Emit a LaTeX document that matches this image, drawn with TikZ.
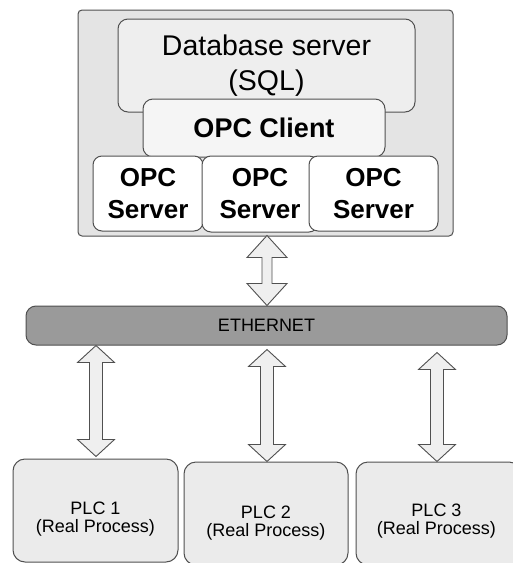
\documentclass[tikz,border=0pt]{standalone}
\usepackage{fontspec}
\setmainfont{Liberation Sans}
\usetikzlibrary{calc}

\definecolor{edge}{HTML}{505050}
\definecolor{hostfill}{HTML}{E4E4E4}
\definecolor{dbfill}{HTML}{EEEEEE}
\definecolor{clientfill}{HTML}{F5F5F5}
\definecolor{netfill}{HTML}{9A9A9A}
\definecolor{plcfill}{HTML}{EBEBEB}
\definecolor{arrowfill}{HTML}{EFEFEF}

\tikzset{
  box/.style={draw=edge, line width=1pt, inner sep=0pt, align=center, text=black},
  hostbox/.style={box, fill=hostfill, rounded corners=4pt},
  dbbox/.style={box, fill=dbfill, rounded corners=10pt,
    font=\fontsize{28.5}{35}\selectfont},
  clientbox/.style={box, fill=clientfill, rounded corners=10pt,
    font=\fontsize{27}{32}\selectfont\bfseries},
  serverbox/.style={box, fill=white, rounded corners=9pt,
    font=\fontsize{26}{32}\selectfont\bfseries},
  netbox/.style={box, fill=netfill, rounded corners=10pt,
    font=\fontsize{18}{20}\selectfont},
  plcbox/.style={box, fill=plcfill, rounded corners=12pt},
  plctext/.style={inner sep=0pt, align=center, font=\fontsize{18}{18}\selectfont},
  fatarrow/.style={draw=edge, line width=0.9pt, fill=arrowfill, line join=miter}
}

% vertical double-headed block arrow between two points
% #1 top tip, #2 bottom tip, #3 half head width, #4 half shaft width, #5 head length
\newcommand\blockarrow[5]{%
  \draw[fatarrow] let \p1=(#1), \p2=(#2) in
    (\x1,\y1) -- (\x1+#3,\y1-#5) -- (\x1+#4,\y1-#5) -- (\x1+#4,\y2+#5)
    -- (\x1+#3,\y2+#5) -- (\x1,\y2) -- (\x1-#3,\y2+#5) -- (\x1-#4,\y2+#5)
    -- (\x1-#4,\y1-#5) -- (\x1-#3,\y1-#5) -- cycle;}

\begin{document}
\begin{tikzpicture}[x=1pt,y=-1pt]
  \clip (0,0) rectangle (513,563);
  \fill[white] (0,0) rectangle (513,563);

  % server host
  \node[hostbox, minimum width=375, minimum height=226] (host) at (265.5,123) {};
  \node[dbbox, minimum width=297, minimum height=93] (db) at (266.5,65.5)
    {Database server\\(SQL)};
  \node[clientbox, minimum width=242, minimum height=58] (client) at (264,128)
    {OPC Client};
  \node[serverbox, minimum width=110, minimum height=75] (srv1) at (148,193.5)
    {OPC\\Server};
  \node[serverbox, minimum width=116, minimum height=76] (srv2) at (260,194)
    {OPC\\Server};
  \node[serverbox, minimum width=129, minimum height=75] (srv3) at (373.5,193.5)
    {OPC\\Server};

  % network bus
  \node[netbox, minimum width=481, minimum height=39] (eth) at (266.5,325.5)
    {ETHERNET};

  % field devices
  \node[plcbox, minimum width=165, minimum height=103] (plc1) at (95.5,510.5) {};
  \node[plcbox, minimum width=164, minimum height=103] (plc2) at (266,513.5) {};
  \node[plcbox, minimum width=165, minimum height=103] (plc3) at (438.5,513.5) {};
  \node[plctext] (plc1txt) at ($(plc1.center)+(0,9)$) {PLC 1\\(Real Process)};
  \node[plctext] (plc2txt) at ($(plc2.center)+(0,10)$) {PLC 2\\(Real Process)};
  \node[plctext] (plc3txt) at ($(plc3.center)+(-2,8)$) {PLC 3\\(Real Process)};

  % arrow end points
  \coordinate (hostout) at ($(host.south)+(1.5,-1)$);
  \coordinate (ethin)   at (eth.north -| hostout);
  \coordinate (a1top) at ($(eth.south -| plc1.north)+(0.5,0)$);
  \coordinate (a1bot) at ($(plc1.north)+(0.5,-2)$);
  \coordinate (a2top) at ($(eth.south -| plc2.north)+(1,4)$);
  \coordinate (a2bot) at ($(plc2.north)+(1,0)$);
  \coordinate (a3top) at ($(eth.south -| plc3.north)+(-1.5,7)$);
  \coordinate (a3bot) at ($(plc3.north)+(-1.5,0)$);

  \blockarrow{hostout}{ethin}{20pt}{5pt}{22pt}
  \blockarrow{a1top}{a1bot}{18.5pt}{6.5pt}{17pt}
  \blockarrow{a2top}{a2bot}{18.5pt}{6.5pt}{17pt}
  \blockarrow{a3top}{a3bot}{18.5pt}{6.5pt}{17pt}
\end{tikzpicture}
\end{document}
